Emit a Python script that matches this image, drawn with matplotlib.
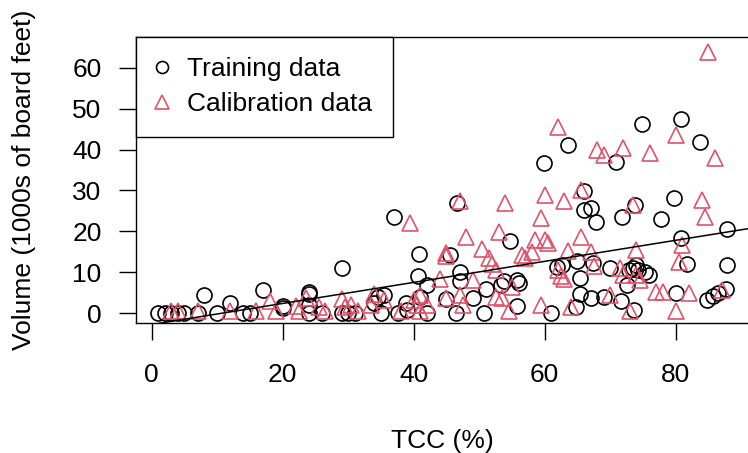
import matplotlib
matplotlib.use("Agg")
import matplotlib.pyplot as plt

# Training data (circles)
train_tcc = [1, 2, 3, 4, 5, 7, 8, 10, 12, 14, 15, 17, 20, 20, 24, 24, 24, 24, 26, 29,
             29, 30, 31, 34, 34.5, 35, 35.5, 37, 37.6, 38.8, 38.9, 40.8, 40.6, 42, 41, 42,
             45, 45.5, 46.5, 47, 47, 46.6, 49, 50.7, 51, 53.3, 53.8, 54.7, 55.8, 55.8, 56,
             59.9, 61, 61.8, 62.7, 63.6, 64.7, 65, 65.4, 66, 66, 67, 67, 67.3, 67.8, 69, 70,
             70.9, 71.7, 71.8, 72.5, 72.8, 73.6, 73.5, 73.8, 74, 74.2, 74.8, 75.3, 75.9,
             77.8, 79.7, 80, 80.8, 80.8, 81.7, 83.7, 84.8, 85.7, 86.5, 87.7, 87.8, 87.8, 65.4]
train_vol = [0, 0, 0, 0, 0, 0, 4.5, 0, 2.5, 0, 0, 5.7, 1.3, 1.8, 4.8, 5.2, 0, 2, 0, 11,
             0, 0, 0, 2.5, 4, 0, 4.5, 23.4, 0, 2.4, 0.8, 14.5, 9, 7, 4, 0,
             3.5, 14.2, 0, 10, 8, 27, 3.7, 0, 6, 6.8, 7.8, 17.7, 8.1, 1.8, 7.4,
             36.6, 0, 11.3, 11.8, 41.1, 1.6, 12.7, 4.7, 29.8, 25.2, 25.7, 3.7, 12.2, 22.3, 4, 11,
             37, 3, 23.5, 6.9, 10.6, 0.8, 11, 26.4, 11.8, 10.6, 46.2, 10, 9.3,
             23, 28.1, 5, 47.5, 18.5, 12, 41.8, 3.2, 4.2, 4.9, 5.9, 20.6, 11.8, 8.6]

# Calibration data (triangles)
calib_tcc = [3, 4, 7, 12, 16, 18, 19, 22, 22.5, 23.5, 25.5, 26.5, 29, 29.5, 30.5,
             31.5, 33.5, 34, 35.5, 38, 39.5, 40, 40.5, 41, 41, 42, 44, 45, 45, 45,
             47, 47, 48, 47.5, 49, 50.5, 51.5, 52, 52.5, 53, 54, 52.5, 53.5, 54.5, 55,
             56.5, 57, 58, 58.5, 59.5, 60, 60, 60.5, 59.5, 62, 62, 62.5, 63, 63, 63.5,
             64, 65.5, 65.5, 67, 67.5, 68, 69, 70, 72, 71.5, 72, 73, 73.5, 74, 74,
             74.5, 76, 77, 78, 80, 80, 80.5, 81, 82, 84, 84.5, 85, 86, 87]
calib_vol = [0.5, 0.5, 0.5, 0.5, 0.5, 3, 0.5, 1.8, 0.5, 3.7, 1.5, 0.5, 3.5, 1.5, 2,
             0.5, 2, 4.7, 3.2, 0.5, 22, 3.2, 2, 4.5, 0.5, 2, 8.4, 14.7, 14, 3.7,
             4.5, 27.4, 18.6, 2, 8.1, 15.7, 13.5, 12, 10.6, 19.9, 26.9, 4, 3.7, 0.5, 6.4,
             14.2, 13.5, 15, 17.9, 23.3, 28.9, 17.9, 17.1, 2, 45.4, 10.6, 9.1, 8.3, 27.4, 15.2,
             1.5, 18.6, 30, 15, 11.5, 39.9, 38.6, 4.5, 40.3, 11, 9.3, 0.5, 26.4, 15.5, 9.3,
             8.1, 39.1, 5.2, 5.2, 43.6, 0.5, 12.5, 16.6, 5, 27.6, 23.5, 63.8, 37.9, 5.7]

# Fitted line
fit_intercept = -2.73
fit_slope = 0.257

xticks = [0, 20, 40, 60, 80]
yticks = [0, 10, 20, 30, 40, 50, 60]

RED = "#DF536B"
FS = 19
plt.rcParams["font.family"] = ["Liberation Sans", "DejaVu Sans"]

fig = plt.figure(figsize=(7.48, 4.53), dpi=100)
ax = fig.add_axes([0.1814, 0.2863, 0.8213, 0.6327])

ax.plot(train_tcc, train_vol, linestyle="none", marker="o", markersize=10.8,
        markerfacecolor="none", markeredgecolor="black", markeredgewidth=1.2,
        label="Training data", clip_on=True)
ax.plot(calib_tcc, calib_vol, linestyle="none", marker="^", markersize=12,
        markerfacecolor="none", markeredgecolor=RED, markeredgewidth=1.2,
        label="Calibration data", clip_on=True)
ax.axline((0, fit_intercept), slope=fit_slope, color="black", linewidth=1.1)

ax.set_xlim(-2.443, 91.34)
ax.set_ylim(-2.44, 67.55)
ax.set_xticks(xticks)
ax.set_yticks(yticks)
ax.tick_params(axis="both", direction="out", length=12, width=1.0, labelsize=FS,
               color="black")
ax.tick_params(axis="x", pad=16.5)
ax.tick_params(axis="y", pad=12.5)
for s in ax.spines.values():
    s.set_linewidth(1.0)
ax.spines["right"].set_visible(False)

ax.set_xlabel("TCC (%)", fontsize=FS, labelpad=30)
ax.set_ylabel("Volume (1000s of board feet)", fontsize=FS, labelpad=26)

leg = ax.legend(loc="upper left", bbox_to_anchor=(0, 1), borderaxespad=0,
                fancybox=False, edgecolor="black", framealpha=1, fontsize=FS,
                handlelength=0.45, handletextpad=0.72, borderpad=0.78,
                labelspacing=0.42, markerscale=0.8)
leg.get_frame().set_linewidth(1.0)

fig.savefig("out.png", dpi=100)
